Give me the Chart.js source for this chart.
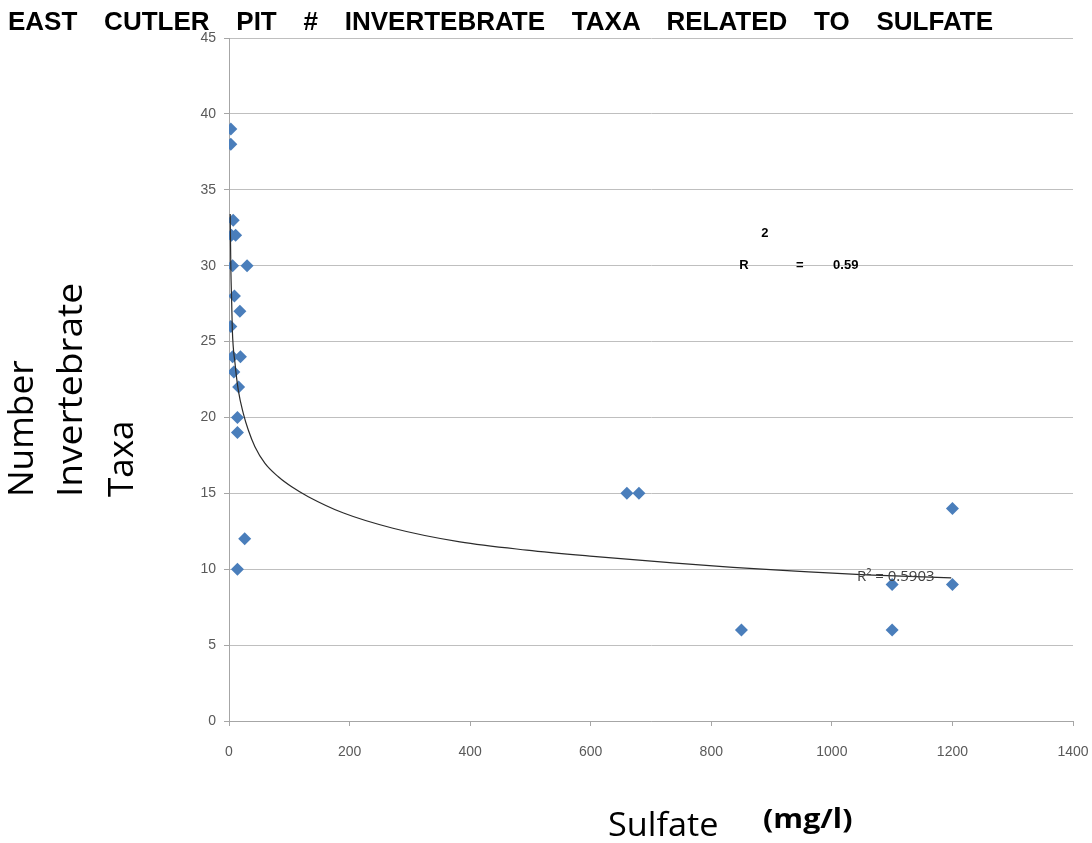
<!DOCTYPE html>
<html><head><meta charset="utf-8">
<script src="https://cdn.jsdelivr.net/npm/chart.js@4"></script>
<style>
html,body{margin:0;padding:0;background:#fff;}
#wrap{position:relative;width:1092px;height:843px;overflow:hidden;background:#fff;}
canvas{position:absolute;left:0;top:0;}
.t{position:absolute;white-space:nowrap;color:#000;}
#title{left:8px;top:6px;width:985px;font:bold 26px "Liberation Sans",Arial,sans-serif;text-align:justify;text-align-last:justify;line-height:30px;}
.yt{font:35px "Open Sans",sans-serif;line-height:40px;transform-origin:0 0;top:497px;}
#xt1{font:33px "Open Sans",sans-serif;left:608px;top:804px;line-height:40px;transform-origin:0 0;}
#xt2{font:bold 26px "Open Sans",sans-serif;left:763px;top:803px;line-height:30px;transform-origin:0 0;}
</style></head><body>
<div id="wrap">
<canvas id="c" width="1092" height="843"></canvas>
<div id="title" class="t">EAST CUTLER PIT # INVERTEBRATE TAXA RELATED TO SULFATE</div>
<div class="t yt" id="yt1" style="left:0px">Number</div>
<div class="t yt" id="yt2" style="left:49px">Invertebrate</div>
<div class="t yt" id="yt3" style="left:100px">Taxa</div>
<div id="xt1" class="t">Sulfate</div>
<div id="xt2" class="t">(mg/l)</div>
</div>
<script>
// Observed samples: sulfate (mg/l) and number of invertebrate taxa
const sulfate = [3, 3, 7, 4, 11, 6, 30, 9, 18, 3, 6, 19, 8, 16, 14, 14, 26, 14, 660, 680, 1200, 1100, 1200, 850, 1100];
const taxa    = [39, 38, 33, 32, 32, 30, 30, 28, 27, 26, 24, 24, 23, 22, 20, 19, 12, 10, 15, 15, 14, 9, 9, 6, 6];

// Logarithmic trend line
const trendX = [2, 3, 4.5, 5.5, 10, 15.4, 23.7, 32, 43, 59.7, 81.8, 104, 131.5, 190, 272, 383, 494, 604, 726, 836, 947, 1057, 1198];
const trendY = [33.4, 30, 27.5, 25.8, 23.56, 21.8, 20.27, 19.17, 18.07, 16.97, 16.09, 15.43, 14.78, 13.7, 12.7, 11.8, 11.26, 10.85, 10.45, 10.12, 9.86, 9.63, 9.43];

// Axis ticks
const xTicks = [0, 200, 400, 600, 800, 1000, 1200, 1400];
const yTicks = [0, 5, 10, 15, 20, 25, 30, 35, 40, 45];

// Annotations (text and data-space anchor)
const annotations = [
  {text: '2',           x: 889,  y: 32.1, font: 'bold 13px "Liberation Sans", Arial', color: '#000', align: 'center'},
  {text: 'R',           x: 854,  y: 30,   font: 'bold 13px "Liberation Sans", Arial', color: '#000', align: 'center'},
  {text: '=',           x: 947,  y: 30,   font: 'bold 13px "Liberation Sans", Arial', color: '#000', align: 'center'},
  {text: '0.59',        x: 1023, y: 30,   font: 'bold 13px "Liberation Sans", Arial', color: '#000', align: 'center'},
  {text: 'R² = 0.5903', x: 1106, y: 9.5,  font: '15px "Open Sans", "Liberation Sans", Arial', color: '#404040', align: 'center'}
];

// Target text widths (px) used to fit the HTML titles
const titleFits = [['yt1', 137], ['yt2', 214], ['yt3', 77], ['xt1', 110], ['xt2', 90]];

const points = sulfate.map((v, i) => ({x: v, y: taxa[i]}));
const trend = trendX.map((v, i) => ({x: v, y: trendY[i]}));

titleFits.forEach(([id, w]) => {
  const el = document.getElementById(id);
  const k = w / el.offsetWidth;
  el.style.transform = (el.classList.contains('yt') ? 'rotate(-90deg) ' : '') + 'scaleX(' + k + ')';
});

const annotPlugin = {
  id: 'annot',
  afterDatasetsDraw(chart) {
    const ctx = chart.ctx, xs = chart.scales.x, ys = chart.scales.y;
    ctx.save();
    annotations.forEach(a => {
      ctx.font = a.font;
      ctx.fillStyle = a.color;
      ctx.textAlign = a.align;
      ctx.textBaseline = 'middle';
      ctx.fillText(a.text, xs.getPixelForValue(a.x), ys.getPixelForValue(a.y));
    });
    ctx.restore();
  }
};

const tickFont = {family: '"Liberation Sans Narrow", "Liberation Sans", Arial', size: 14};
const plain = v => String(v);

new Chart(document.getElementById('c'), {
  data: {
    datasets: [
      {type: 'line', data: trend, borderColor: '#2b2b2b', borderWidth: 1.2, pointRadius: 0, fill: false, cubicInterpolationMode: 'monotone'},
      {type: 'scatter', data: points, pointStyle: 'rectRot', pointRadius: 6.5, backgroundColor: '#4a7ebb', borderColor: '#4a7ebb', borderWidth: 0}
    ]
  },
  options: {
    responsive: false,
    animation: false,
    devicePixelRatio: 1,
    layout: {padding: {top: 38, right: 19, left: 0, bottom: 0}},
    plugins: {legend: {display: false}, tooltip: {enabled: false}, title: {display: false}},
    scales: {
      x: {
        type: 'linear', min: xTicks[0], max: xTicks[xTicks.length - 1],
        afterBuildTicks: s => { s.ticks = xTicks.map(v => ({value: v})); },
        afterFit: s => { s.height = 122; s.paddingLeft = 0; s.paddingRight = 0; },
        ticks: {color: '#595959', font: tickFont, padding: 18, maxRotation: 0, callback: plain},
        grid: {drawOnChartArea: false, drawTicks: true, tickLength: 5, color: '#a6a6a6'},
        border: {color: '#a6a6a6'}
      },
      y: {
        type: 'linear', min: yTicks[0], max: yTicks[yTicks.length - 1],
        afterBuildTicks: s => { s.ticks = yTicks.map(v => ({value: v})); },
        afterFit: s => { s.width = 229; s.paddingTop = 0; s.paddingBottom = 0; },
        ticks: {color: '#595959', font: tickFont, padding: 8, callback: plain},
        grid: {color: '#bfbfbf', tickLength: 5, tickColor: '#a6a6a6'},
        border: {color: '#a6a6a6'}
      }
    }
  },
  plugins: [annotPlugin]
});
</script>
</body></html>
